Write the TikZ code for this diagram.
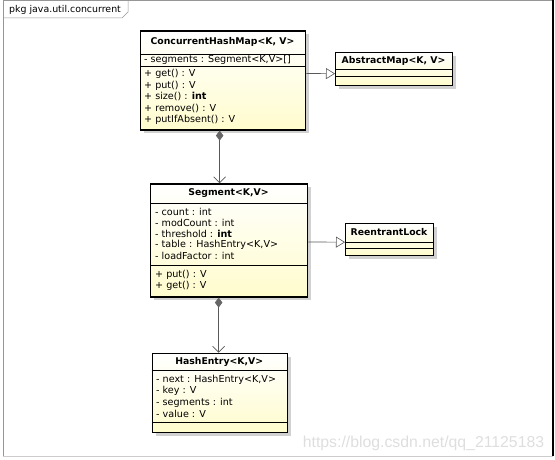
\documentclass[tikz,border=0pt]{standalone}
\usepackage{fontspec}
\setmainfont{DejaVu Sans}
\newfontfamily\wmfont{Liberation Sans}
\usetikzlibrary{arrows.meta,shadows}
\definecolor{clsyellow}{RGB}{255,252,205}
\definecolor{framegray}{RGB}{150,150,150}
\definecolor{wmgray}{RGB}{222,222,222}
\tikzset{
  classbox/.style={draw=black, line width=1.3pt, top color=white, bottom color=clsyellow,
    anchor=north west, inner sep=0pt,
    drop shadow={shadow xshift=3.5pt, shadow yshift=-3.5pt, fill=black!18, opacity=1}},
  ctitle/.style={font=\bfseries\fontsize{9.3}{11}\selectfont, inner sep=0pt, anchor=center},
  member/.style={font=\fontsize{9.6}{11}\selectfont, inner sep=0pt, anchor=west},
  sepline/.style={line width=0.7pt},
  gen/.style={draw=black!65, line width=0.6pt, -{Triangle[open,length=9pt,width=11pt,fill=white]}},
  comp/.style={draw=black!65, line width=0.7pt,
    {Diamond[length=10pt,width=7.5pt,fill=black!60,color=black!60]}-{Straight Barb[length=6pt,width=12pt]}}
}
\begin{document}
\begin{tikzpicture}[x=1pt,y=-1pt]
\useasboundingbox (0,0) rectangle (555,460);
% package frame
\draw[framegray, line width=0.8pt] (3,456) -- (3,0.5) -- (553,0.5);
\draw[black, line width=1.2pt] (553,0) -- (553,456);
\draw[black!20, line width=0.6pt] (3,456) -- (553,456);
\draw[framegray, line width=0.5pt] (3,18) -- (122,18) -- (128,12) -- (128,0.5);
\node[font=\fontsize{9.4}{11}\selectfont, anchor=west, inner sep=0pt] (pkg) at (9,9.5) {pkg java.util.concurrent};

% ConcurrentHashMap
\node[classbox, minimum width=165pt, minimum height=99pt] (chm) at (140,30.3) {};
\node[ctitle] (chmt) at (222.5,41.5) {ConcurrentHashMap<K, V>};
\draw[sepline] (140,54.3) -- (305,54.3);
\node[member] (chma1) at (144,60.3) {- segments : Segment<K,V>[]};
\draw[sepline] (140,66.7) -- (305,66.7);
\node[member] (chmm1) at (144,74.3) {+ get() : V};
\node[member] (chmm2) at (144,85.6) {+ put() : V};
\node[member] (chmm3) at (144,96.9) {+ size() : \textbf{int}};
\node[member] (chmm4) at (144,108.2) {+ remove() : V};
\node[member] (chmm5) at (144,119.5) {+ putIfAbsent() : V};

% AbstractMap
\node[classbox, minimum width=117pt, minimum height=33pt] (am) at (335,52) {};
\node[ctitle] (amt) at (393.5,61) {AbstractMap<K, V>};
\draw[sepline] (335,69) -- (452,69);
\draw[sepline] (335,76) -- (452,76);

% Segment
\node[classbox, minimum width=157pt, minimum height=113pt] (seg) at (150,183.3) {};
\node[ctitle] (segt) at (228.5,193.3) {Segment<K,V>};
\draw[sepline] (150,203.3) -- (307,203.3);
\node[member] (sega1) at (155,211.7) {- count : int};
\node[member] (sega2) at (155,222.6) {- modCount : int};
\node[member] (sega3) at (155,233.5) {- threshold : \textbf{int}};
\node[member] (sega4) at (155,244.4) {- table : HashEntry<K,V>};
\node[member] (sega5) at (155,255.6) {- loadFactor : int};
\draw[sepline] (150,265) -- (307,265);
\node[member] (segm1) at (155,274.5) {+ put() : V};
\node[member] (segm2) at (155,285.8) {+ get() : V};

% ReentrantLock
\node[classbox, minimum width=88pt, minimum height=32pt] (rl) at (345,223) {};
\node[ctitle] (rlt) at (389,232.5) {ReentrantLock};
\draw[sepline] (345,242) -- (433,242);
\draw[sepline] (345,248) -- (433,248);

% HashEntry
\node[classbox, minimum width=135pt, minimum height=79pt] (he) at (151.7,352.7) {};
\node[ctitle] (het) at (219.2,361.7) {HashEntry<K,V>};
\draw[sepline] (151.7,370) -- (286.7,370);
\node[member] (hea1) at (156,379.8) {- next : HashEntry<K,V>};
\node[member] (hea2) at (156,391.1) {- key : V};
\node[member] (hea3) at (156,402.7) {- segments : int};
\node[member] (hea4) at (156,414) {- value : V};
\draw[sepline] (151.7,422.7) -- (286.7,422.7);

% connectors
\draw[gen] ([yshift=7pt]chm.east) -- ([yshift=-4.5pt]am.west);
\draw[gen] ([yshift=-1.5pt]seg.east) -- ([yshift=-2.5pt]rl.west);
\draw[comp] ([xshift=-3.5pt]chm.south) -- ([xshift=-3.5pt]chm.south |- seg.north);
\draw[comp] ([xshift=-10.5pt]seg.south) -- ([xshift=-10.5pt]seg.south |- he.north);

% watermark
\node[text=wmgray, font=\wmfont\fontsize{15.8}{18}\selectfont, anchor=center, inner sep=0pt] (wm) at (423.5,443) {https://blog.csdn.net/qq\_21125183};
\end{tikzpicture}
\end{document}
